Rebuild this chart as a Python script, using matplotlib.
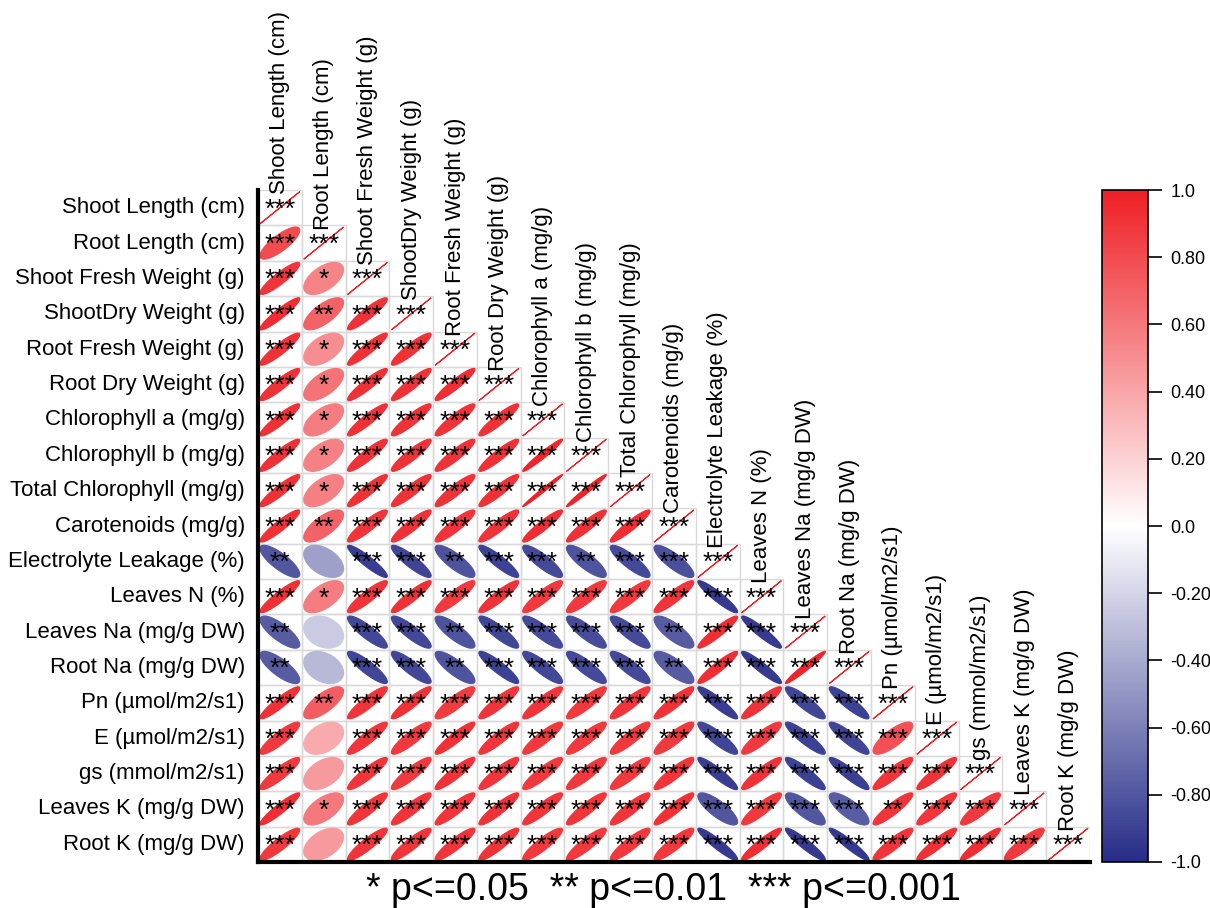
import numpy as np
import matplotlib
matplotlib.use("Agg")
import matplotlib.pyplot as plt
from matplotlib.colors import LinearSegmentedColormap, Normalize
from matplotlib.patches import Polygon, Rectangle
from matplotlib.colorbar import ColorbarBase

plt.rcParams["font.family"] = ["Liberation Sans", "DejaVu Sans"]

variables = [
    "Shoot Length (cm)", "Root Length (cm)", "Shoot Fresh Weight (g)",
    "ShootDry Weight (g)", "Root Fresh Weight (g)", "Root Dry Weight (g)",
    "Chlorophyll a (mg/g)", "Chlorophyll b (mg/g)", "Total Chlorophyll (mg/g)",
    "Carotenoids (mg/g)", "Electrolyte Leakage (%)", "Leaves N (%)",
    "Leaves Na (mg/g DW)", "Root Na (mg/g DW)", "Pn (µmol/m2/s1)",
    "E (µmol/m2/s1)", "gs (mmol/m2/s1)", "Leaves K (mg/g DW)", "Root K (mg/g DW)",
]

# lower triangle of the correlation matrix, row i holds columns 0..i-1
corr_rows = [
    [],
    [0.80],
    [0.90, 0.55],
    [0.93, 0.70, 0.91],
    [0.91, 0.50, 0.92, 0.91],
    [0.91, 0.62, 0.92, 0.92, 0.93],
    [0.92, 0.58, 0.92, 0.91, 0.91, 0.92],
    [0.92, 0.56, 0.91, 0.91, 0.91, 0.92, 0.97],
    [0.92, 0.57, 0.92, 0.91, 0.91, 0.92, 0.99, 0.98],
    [0.92, 0.70, 0.90, 0.91, 0.90, 0.91, 0.93, 0.92, 0.93],
    [-0.80, -0.45, -0.92, -0.89, -0.82, -0.90, -0.86, -0.82, -0.86, -0.83],
    [0.92, 0.58, 0.90, 0.92, 0.89, 0.91, 0.89, 0.88, 0.89, 0.90, -0.93],
    [-0.78, -0.25, -0.87, -0.87, -0.82, -0.88, -0.86, -0.85, -0.86, -0.78, 0.93, -0.93],
    [-0.78, -0.33, -0.88, -0.87, -0.82, -0.90, -0.87, -0.86, -0.86, -0.78, 0.93, -0.93, 0.97],
    [0.92, 0.72, 0.90, 0.92, 0.87, 0.90, 0.90, 0.89, 0.90, 0.91, -0.92, 0.91, -0.88, -0.90],
    [0.88, 0.38, 0.90, 0.88, 0.92, 0.90, 0.89, 0.89, 0.89, 0.88, -0.88, 0.88, -0.90, -0.89, 0.78],
    [0.89, 0.45, 0.90, 0.89, 0.91, 0.90, 0.89, 0.89, 0.89, 0.90, -0.92, 0.91, -0.90, -0.91, 0.90, 0.91],
    [0.93, 0.60, 0.90, 0.90, 0.90, 0.91, 0.90, 0.90, 0.90, 0.92, -0.80, 0.89, -0.80, -0.77, 0.90, 0.90, 0.88],
    [0.89, 0.45, 0.90, 0.90, 0.90, 0.91, 0.89, 0.89, 0.89, 0.89, -0.93, 0.93, -0.93, -0.94, 0.90, 0.92, 0.93, 0.88],
]

# number of significance stars per cell (diagonal is always ***)
star_rows = [
    "",
    "3",
    "31",
    "323",
    "3133",
    "31333",
    "313333",
    "3133333",
    "31333333",
    "323333333",
    "2033233233",
    "31333333333",
    "203323333233",
    "2033233332333",
    "32333333333333",
    "303333333333333",
    "3033333333333333",
    "31333333333333233",
    "303333333333333333",
]

cbar_ticks = [-1.0, -0.8, -0.6, -0.4, -0.2, 0.0, 0.2, 0.4, 0.6, 0.8, 1.0]
cbar_labels = ["-1.0", "-0.80", "-0.60", "-0.40", "-0.20", "0.0",
               "0.20", "0.40", "0.60", "0.80", "1.0"]

cmap = LinearSegmentedColormap.from_list("bwr_corr", ["#272D88", "#FFFFFF", "#EE1F25"])
norm = Normalize(-1, 1)

n = len(variables)
fig = plt.figure(figsize=(12.1, 9.08), dpi=100)
ax = fig.add_axes([0.2132, 0.0507, 0.6876, 0.74])

t = np.linspace(0, 2 * np.pi, 99)
scale = 0.91
for i in range(n):
    vals = corr_rows[i] + [1.0]
    stars = star_rows[i] + "3"
    for j in range(i + 1):
        r = vals[j]
        ax.add_patch(Rectangle((j, i), 1, 1, facecolor="none",
                               edgecolor="#d9d9d9", lw=1.0, zorder=1))
        a = np.arccos(np.clip(r, -1, 1))
        ex = np.cos(t + a / 2) / 2 * scale
        ey = np.cos(t - a / 2) / 2 * scale
        col = cmap(norm(r))
        ax.add_patch(Polygon(np.column_stack([j + 0.5 + ex, i + 0.5 - ey]),
                             closed=True, facecolor=col, edgecolor=col,
                             lw=0.8, zorder=2))
        k = int(stars[j])
        if k:
            ax.text(j + 0.5, i + 0.55, "*" * k, ha="center", va="center",
                    fontsize=19, zorder=3)
    # row and column labels
    ax.text(-0.3, i + 0.5, variables[i], ha="right", va="center", fontsize=16)
    ax.text(i + 0.5, i + 0.12, variables[i], ha="center", va="bottom",
            rotation=90, fontsize=16)

ax.set_xlim(0, n)
ax.set_ylim(n, 0)
ax.set_xticks([])
ax.set_yticks([])
for side in ["top", "right"]:
    ax.spines[side].set_visible(False)
ax.spines["left"].set_linewidth(3)
ax.spines["bottom"].set_linewidth(3)

ax.text(n / 2 - 0.25, n + 0.8, "* p<=0.05  ** p<=0.01  *** p<=0.001",
        ha="center", va="center", fontsize=27)

cax = fig.add_axes([0.9107, 0.0507, 0.038, 0.74])
cb = ColorbarBase(cax, cmap=cmap, norm=norm, orientation="vertical")
cb.set_ticks(cbar_ticks)
cb.set_ticklabels(cbar_labels)
cb.outline.set_linewidth(1.2)
cax.tick_params(length=10, width=1.2, labelsize=13, pad=6)

fig.savefig("out.png", dpi=100)
